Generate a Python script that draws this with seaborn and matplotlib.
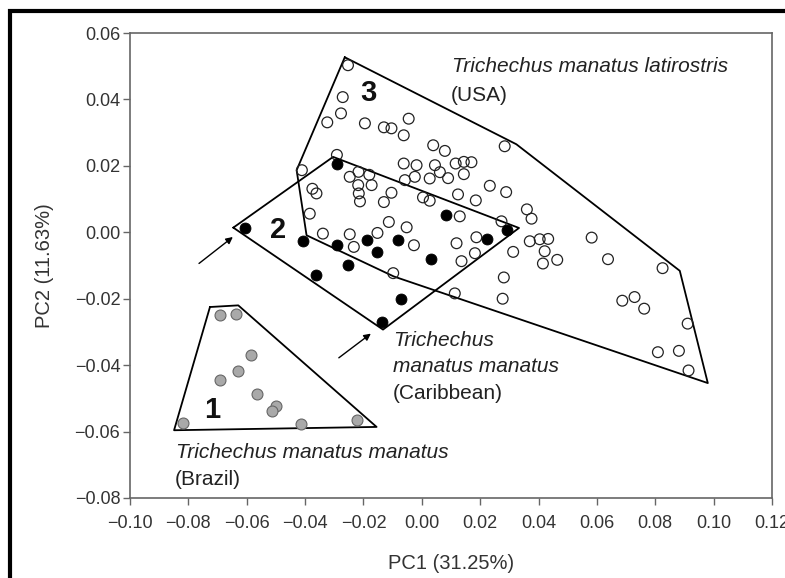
import matplotlib
matplotlib.use("Agg")
import matplotlib.pyplot as plt
import seaborn as sns
import pandas as pd
import numpy as np
from matplotlib.patches import Rectangle

# ---------------- data ----------------
# Group 1: Trichechus manatus manatus (Brazil) - grey filled
brazil_x = [-0.0692, -0.0637, -0.0586, -0.0631, -0.0692, -0.0564, -0.0498, -0.0515, -0.0817, -0.0414, -0.0221]
brazil_y = [-0.0250, -0.0245, -0.0370, -0.0418, -0.0446, -0.0488, -0.0524, -0.0538, -0.0574, -0.0578, -0.0564]

# Group 2: Trichechus manatus manatus (Caribbean) - black filled
carib_x = [-0.0606, -0.0292, -0.0406, -0.0292, -0.0189, -0.0155, -0.0252, -0.0361,
           -0.0081, 0.0082, 0.0224, 0.0293, 0.0030, -0.0070, -0.0135]
carib_y = [0.0013, 0.0207, -0.0026, -0.0039, -0.0024, -0.0059, -0.0099, -0.0130,
           -0.0022, 0.0051, -0.0019, 0.0008, -0.0079, -0.0200, -0.0270]

# Group 3: Trichechus manatus latirostris (USA) - open circles
usa_x = [-0.0253, -0.0271, -0.0277, -0.0324, -0.0195, -0.0130, -0.0104, -0.0045, -0.0062, 0.0039,
         0.0079, 0.0284, -0.0291, -0.0411, -0.0247, -0.0217, -0.0180, -0.0218, -0.0172, -0.0216,
         -0.0212, -0.0375, -0.0361, -0.0384, -0.0130, -0.0104, -0.0113, -0.0339, -0.0247, -0.0233,
         -0.0152, -0.0062, -0.0058, -0.0018, -0.0024, 0.0045, 0.0027, 0.0090, 0.0116, 0.0144,
         0.0170, 0.0144, 0.0233, 0.0289, 0.0124, 0.0185, 0.0004, 0.0027, 0.0130, 0.0360,
         0.0376, -0.0052, -0.0027, 0.0119, 0.0187, 0.0182, 0.0136, 0.0313, 0.0273, 0.0370,
         0.0404, 0.0433, 0.0421, 0.0464, 0.0415, 0.0582, 0.0638, 0.0825, -0.0098, 0.0113,
         0.0281, 0.0277, 0.0687, 0.0729, 0.0762, 0.0911, 0.0809, 0.0881, 0.0914, 0.0062]
usa_y = [0.0503, 0.0407, 0.0358, 0.0331, 0.0328, 0.0316, 0.0313, 0.0342, 0.0292, 0.0262,
         0.0245, 0.0259, 0.0233, 0.0187, 0.0167, 0.0182, 0.0173, 0.0142, 0.0142, 0.0117,
         0.0093, 0.0131, 0.0117, 0.0056, 0.0091, 0.0119, 0.0031, -0.0004, -0.0006, -0.0044,
         -0.0002, 0.0207, 0.0157, 0.0202, 0.0167, 0.0202, 0.0162, 0.0163, 0.0207, 0.0212,
         0.0211, 0.0175, 0.0140, 0.0121, 0.0114, 0.0096, 0.0105, 0.0095, 0.0048, 0.0069,
         0.0041, 0.0015, -0.0039, -0.0033, -0.0015, -0.0063, -0.0087, -0.0059, 0.0033, -0.0027,
         -0.0021, -0.0020, -0.0057, -0.0083, -0.0094, -0.0016, -0.0081, -0.0108, -0.0123, -0.0184,
         -0.0136, -0.0200, -0.0206, -0.0195, -0.0230, -0.0275, -0.0361, -0.0357, -0.0416, 0.0181]

# Convex hull outlines as drawn
hull1_x = [-0.0726, -0.0629, -0.0155, -0.0849]
hull1_y = [-0.0225, -0.0220, -0.0586, -0.0596]
hull2_x = [-0.0646, -0.0304, 0.0333, -0.0133]
hull2_y = [0.0014, 0.0227, 0.0013, -0.0293]
hull3_x = [-0.0264, 0.0324, 0.0884, 0.0980, -0.0096, -0.0395, -0.0429]
hull3_y = [0.0527, 0.0265, -0.0116, -0.0454, -0.0133, -0.0009, 0.0187]

group_numbers = ["1", "2", "3"]
number_x = [-0.0720, -0.0492, -0.0184]
number_y = [-0.0536, 0.0006, 0.0420]

x_ticks = [-0.10, -0.08, -0.06, -0.04, -0.02, 0.00, 0.02, 0.04, 0.06, 0.08, 0.10, 0.12]
y_ticks = [-0.08, -0.06, -0.04, -0.02, 0.00, 0.02, 0.04, 0.06]

# ---------------- styling ----------------
sns.set_style("ticks")
plt.rcParams['font.family'] = ['Liberation Sans', 'DejaVu Sans']
plt.rcParams['axes.unicode_minus'] = True

fig = plt.figure(figsize=(7.85, 5.78), dpi=100)
ax = fig.add_axes([130 / 785, 1 - 498 / 578, (772 - 130) / 785, (498 - 33) / 578])

df_b = pd.DataFrame({"x": brazil_x, "y": brazil_y})
df_c = pd.DataFrame({"x": carib_x, "y": carib_y})
df_u = pd.DataFrame({"x": usa_x, "y": usa_y})

# hull outlines
for hx, hy in [(hull1_x, hull1_y), (hull2_x, hull2_y), (hull3_x, hull3_y)]:
    ax.plot(hx + hx[:1], hy + hy[:1], color="black", lw=1.3, zorder=2)

sns.scatterplot(data=df_u, x="x", y="y", ax=ax, s=60, marker="o",
                facecolor="none", edgecolor="#222222", linewidth=0.9, zorder=3)
sns.scatterplot(data=df_c, x="x", y="y", ax=ax, s=62, marker="o",
                color="black", edgecolor="black", linewidth=0.6, zorder=3)
sns.scatterplot(data=df_b, x="x", y="y", ax=ax, s=62, marker="o",
                color="#a9a9a9", edgecolor="#666666", linewidth=0.8, zorder=3)

for t, tx, ty in zip(group_numbers, number_x, number_y):
    ax.text(tx, ty, t, fontsize=21, fontweight="bold", ha="center", va="center",
            color="#111111", zorder=4)

# labels
it = dict(fontsize=15, style="italic", ha="left", va="center", color="#222222")
up = dict(fontsize=15, ha="left", va="center", color="#222222")
ax.text(0.0102, 0.0498, "Trichechus manatus latirostris", **it)
ax.text(0.0098, 0.0413, "(USA)", **up)
ax.text(-0.0098, -0.0325, "Trichechus", **it)
ax.text(-0.0100, -0.0404, "manatus manatus", **it)
ax.text(-0.0100, -0.0485, "(Caribbean)", **up)
ax.text(-0.0843, -0.0662, "Trichechus manatus manatus", **it)
ax.text(-0.0846, -0.0744, "(Brazil)", **up)

# arrows
arrow_kw = dict(arrowstyle="-|>", color="black", lw=1.0, mutation_scale=10)
ax.annotate("", xy=(-0.0640, -0.0009), xytext=(-0.0771, -0.0099), arrowprops=arrow_kw)
ax.annotate("", xy=(-0.0167, -0.0300), xytext=(-0.0292, -0.0383), arrowprops=arrow_kw)

ax.set_xlim(-0.10, 0.12)
ax.set_ylim(-0.08, 0.06)
ax.set_xticks(x_ticks)
ax.set_yticks(y_ticks)
ax.set_xticklabels([f"{v:.2f}".replace("-", "\u2212") for v in x_ticks])
ax.set_yticklabels([f"{v:.2f}".replace("-", "\u2212") for v in y_ticks])
ax.tick_params(axis="both", direction="out", length=5, width=1.0, color="#666666",
               labelsize=13, labelcolor="#333333")
ax.tick_params(axis="x", pad=7)
ax.tick_params(axis="y", pad=2)
for sp in ax.spines.values():
    sp.set_visible(True)
    sp.set_color("#666666")
    sp.set_linewidth(1.2)

ax.set_xlabel("PC1 (31.25%)", fontsize=14.5, color="#333333", labelpad=16)
ax.set_ylabel("PC2 (11.63%)", fontsize=14.5, color="#333333", labelpad=15)

# thick outer frame (left and top visible)
fig.patches.append(Rectangle((9.5 / 785, -0.2), 1.5, 0.2 + 1 - 11.3 / 578,
                             transform=fig.transFigure, fill=False,
                             edgecolor="black", linewidth=3.0))

fig.savefig("out.png", dpi=100)
